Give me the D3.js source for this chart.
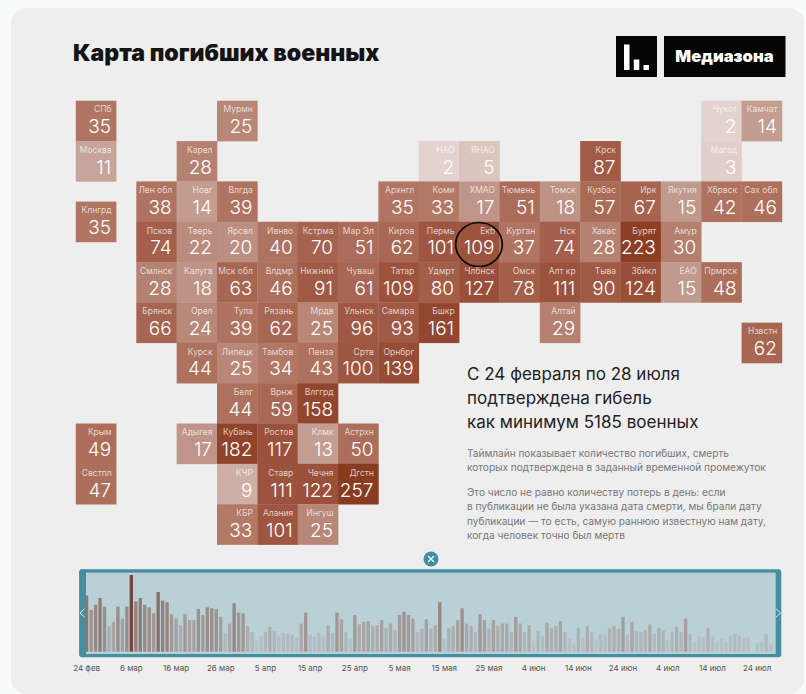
<!DOCTYPE html>
<html lang="ru">
<head>
<meta charset="utf-8">
<title>Карта погибших военных</title>
<script src="https://cdn.jsdelivr.net/npm/d3@7"></script>
<style>
  html, body { margin: 0; padding: 0; background: #f9fbfb; }
  svg { display: block; }
  text { font-family: "Inter", "Roboto", sans-serif; }
</style>
</head>
<body>
<svg id="chart"></svg>
<script>
// DATA

// regions of the tile map, the four arrays go together
const regionNames = [
  "СПб", "Мурмн", "Чукот", "Камчат",
  "Москва", "Карел", "НАО", "ЯНАО", "Крск", "Магад",
  "Лен обл", "Новг", "Влгда", "Архнгл", "Коми", "ХМАО", "Тюмень", "Томск", "Кузбас", "Ирк", "Якутия", "Хбрвск", "Сах обл",
  "Клнгрд",
  "Псков", "Тверь", "Ярсвл", "Ивнво", "Кстрма", "Мар Эл", "Киров", "Пермь", "Екб", "Курган", "Нск", "Хакас", "Бурят", "Амур",
  "Смлнск", "Калуга", "Мск обл", "Влдмр", "Нижний", "Чуваш", "Татар", "Удмрт", "Члбнск", "Омск", "Алт кр", "Тыва", "Збйкл", "ЕАО", "Прмрск",
  "Брянск", "Орел", "Тула", "Рязань", "Мрдв", "Ульнск", "Самара", "Бшкр", "Алтай",
  "Нзвстн",
  "Курск", "Липецк", "Тамбов", "Пенза", "Сртв", "Орнбрг",
  "Белг", "Врнж", "Влггрд",
  "Крым", "Адыгея", "Кубань", "Ростов", "Клмк", "Астрхн",
  "Свстпл", "КЧР", "Ставр", "Чечня", "Дгстн",
  "КБР", "Алания", "Ингуш"
];
const regionValues = [
  35, 25, 2, 14,
  11, 28, 2, 5, 87, 3,
  38, 14, 39, 35, 33, 17, 51, 18, 57, 67, 15, 42, 46,
  35,
  74, 22, 20, 40, 70, 51, 62, 101, 109, 37, 74, 28, 223, 30,
  28, 18, 63, 46, 91, 61, 109, 80, 127, 78, 111, 90, 124, 15, 48,
  66, 24, 39, 62, 25, 96, 93, 161, 29,
  62,
  44, 25, 34, 43, 100, 139,
  44, 59, 158,
  49, 17, 182, 117, 13, 50,
  47, 9, 111, 122, 257,
  33, 101, 25
];
// grid place of every region (column, row)
const regionCols = [
  -1.5, 2, 14, 15,
  -1.5, 1, 7, 8, 11, 14,
  0, 1, 2, 6, 7, 8, 9, 10, 11, 12, 13, 14, 15,
  -1.5,
  0, 1, 2, 3, 4, 5, 6, 7, 8, 9, 10, 11, 12, 13,
  0, 1, 2, 3, 4, 5, 6, 7, 8, 9, 10, 11, 12, 13, 14,
  0, 1, 2, 3, 4, 5, 6, 7, 10,
  15,
  1, 2, 3, 4, 5, 6,
  2, 3, 4,
  -1.5, 1, 2, 3, 4, 5,
  -1.5, 2, 3, 4, 5,
  2, 3, 4
];
const regionRows = [
  0, 0, 0, 0,
  1, 1, 1, 1, 1, 1,
  2, 2, 2, 2, 2, 2, 2, 2, 2, 2, 2, 2, 2,
  2.5,
  3, 3, 3, 3, 3, 3, 3, 3, 3, 3, 3, 3, 3, 3,
  4, 4, 4, 4, 4, 4, 4, 4, 4, 4, 4, 4, 4, 4, 4,
  5, 5, 5, 5, 5, 5, 5, 5, 5,
  5.5,
  6, 6, 6, 6, 6, 6,
  7, 7, 7,
  8, 8, 8, 8, 8, 8,
  9, 9, 9, 9, 9,
  10, 10, 10
];

// confirmed deaths per day, from 24 feb
const dailyDeaths = [
  66, 49, 55, 63, 53, 30, 35, 53, 39, 53,
  90, 59, 63, 55, 52, 45, 70, 60, 58, 44,
  39, 31, 44, 37, 37, 50, 43, 52, 51, 50,
  41, 22, 33, 57, 46, 45, 30, 23, 13, 18,
  23, 29, 24, 18, 22, 21, 20, 17, 33, 46,
  20, 18, 22, 18, 31, 22, 46, 38, 23, 15,
  43, 32, 35, 36, 30, 31, 37, 28, 33, 25,
  43, 47, 43, 39, 23, 27, 38, 27, 31, 58,
  15, 28, 30, 37, 51, 33, 30, 23, 44, 37,
  27, 37, 30, 33, 33, 23, 41, 33, 23, 31,
  13, 24, 19, 34, 28, 30, 36, 23, 15, 10,
  28, 16, 30, 23, 14, 21, 20, 27, 30, 27,
  41, 20, 35, 24, 23, 25, 32, 21, 28, 25,
  14, 23, 29, 23, 39, 21, 12, 18, 17, 28,
  18, 12, 15, 12, 19, 21, 19, 16, 17, 0,
  10, 12, 21, 10, 0
];
const dayTicks = ["24 фев", "6 мар", "16 мар", "26 мар", "5 апр", "15 апр", "25 апр", "5 мая",
  "15 мая", "25 мая", "4 июн", "14 июн", "24 июн", "4 июл", "14 июл", "24 июл"];

const headlineLines = ["С 24 февраля по 28 июля", "подтверждена гибель", "как минимум 5185 военных"];
const noteLines = ["Таймлайн показывает количество погибших, смерть",
  "которых подтверждена в заданный временной промежуток"];
const explainLines = ["Это число не равно количеству потерь в день: если",
  "в публикации не была указана дата смерти, мы брали дату",
  "публикации — то есть, самую раннюю известную нам дату,",
  "когда человек точно был мертв"];

// SETUP

const width = 806, height = 694;
const svg = d3.select("#chart").attr("width", width).attr("height", height);

// grey card behind everything
svg.append("rect")
  .attr("x", 11).attr("y", 8)
  .attr("width", 793).attr("height", 686)
  .attr("rx", 15)
  .attr("fill", "#eeeeee");

svg.append("text")
  .attr("x", 73).attr("y", 60.5)
  .attr("font-size", 23.1).attr("font-weight", 900)
  .attr("fill", "#141414")
  .text("Карта погибших военных");

// LOGO

const logo = svg.append("g");
logo.append("rect").attr("x", 616).attr("y", 36).attr("width", 41).attr("height", 41).attr("fill", "#050505");
[[624, 44.5], [633.8, 59.5], [643.5, 65]].forEach(function (b) {
  logo.append("rect").attr("x", b[0]).attr("y", b[1]).attr("width", 5.5).attr("height", 70 - b[1]).attr("fill", "#fff");
});
logo.append("rect").attr("x", 664).attr("y", 36).attr("width", 121.5).attr("height", 41).attr("fill", "#050505");
logo.append("text")
  .attr("x", 724.5).attr("y", 61.8)
  .attr("text-anchor", "middle")
  .attr("font-size", 16.6).attr("font-weight", 900)
  .attr("fill", "#fff")
  .text("Медиазона");

// TILE MAP

const tileSize = 40.35;
const xGrid = d3.scaleLinear().domain([0, 15]).range([136.3, 136.3 + 15 * tileSize]);
const yGrid = d3.scaleLinear().domain([0, 10]).range([100.7, 100.7 + 10 * tileSize]);

// color goes from pale pink to dark brown, most of the change is in small numbers
const tileColor = d3.scaleLinear()
  .domain([2, 5, 11, 18, 35, 74, 110, 160, 257])
  .range(["#e3d3ce", "#dbc5be", "#c6a499", "#bd9385", "#b07663", "#a4604c", "#9c533e", "#934730", "#893b20"]);

const tiles = svg.append("g")
  .selectAll("g")
  .data(regionNames.map(function (name, i) {
    return { name: name, value: regionValues[i], col: regionCols[i], row: regionRows[i] };
  }))
  .join("g")
    .attr("transform", function (d) { return "translate(" + xGrid(d.col) + "," + yGrid(d.row) + ")"; });

tiles.append("rect")
  .attr("width", tileSize + 0.3)
  .attr("height", tileSize + 0.3)
  .attr("fill", function (d) { return tileColor(d.value); });

tiles.append("text")
  .attr("x", tileSize - 4.5).attr("y", 11.8)
  .attr("text-anchor", "end")
  .attr("font-size", 8.5)
  .attr("fill", "#fff").attr("fill-opacity", 0.72)
  .text(function (d) { return d.name; });

tiles.append("text")
  .attr("x", tileSize - 5).attr("y", 32.7)
  .attr("text-anchor", "end")
  .attr("font-size", 19).attr("font-weight", 300)
  .attr("fill", "#fff")
  .text(function (d) { return d.value; });

// black circle around Екб (the one that was hand marked on the screenshot)
svg.append("ellipse")
  .attr("cx", 479).attr("cy", 244.5)
  .attr("rx", 23.3).attr("ry", 22)
  .attr("fill", "none")
  .attr("stroke", "#0a0a0a").attr("stroke-width", 1.7);

// TEXT BLOCK

function addLines(lines, firstY, step, size, color) {
  svg.append("g").selectAll("text")
    .data(lines)
    .join("text")
      .attr("x", 467)
      .attr("y", function (d, i) { return firstY + i * step; })
      .attr("font-size", size)
      .attr("fill", color)
      .text(function (d) { return d; });
}
addLines(headlineLines, 380, 24.2, 17.05, "#222222");
addLines(noteLines, 456.7, 14.2, 10.1, "#777777");
addLines(explainLines, 495.7, 14.4, 10.1, "#777777");

// TIMELINE

const barTop = 575, barBottom = 651.7;
const xDay = d3.scaleBand()
  .domain(d3.range(dailyDeaths.length))
  .range([84.4, 84.4 + dailyDeaths.length * 4.47]);
const yDeaths = d3.scaleLinear().domain([0, 90]).range([barBottom, barTop]);
const barColor = d3.scaleLinear()
  .domain([0, 18, 35, 58, 90])
  .range(["#b6c6ca", "#b3bfc2", "#a9a5a4", "#968580", "#74473d"]);

// brush window
svg.append("rect")
  .attr("x", 79.3).attr("y", 569.3)
  .attr("width", 702).attr("height", 88)
  .attr("rx", 3)
  .attr("fill", "#468e9f");
svg.append("rect")
  .attr("x", 86).attr("y", 572.6)
  .attr("width", 689.7).attr("height", 81.4)
  .attr("fill", "#b9d0d7");

svg.append("g")
  .selectAll("rect")
  .data(dailyDeaths)
  .join("rect")
    .attr("x", function (d, i) { return xDay(i) + (xDay.bandwidth() - 3.3) / 2; })
    .attr("y", function (d) { return yDeaths(d); })
    .attr("width", 3.3)
    .attr("height", function (d) { return barBottom - yDeaths(d); })
    .attr("fill", function (d) { return barColor(d); });

// the left handle sits on top of first bar
svg.append("rect")
  .attr("x", 79.3).attr("y", 569.3)
  .attr("width", 6.7).attr("height", 88)
  .attr("rx", 3)
  .attr("fill", "#468e9f");

// handle arrows
[[84.5, -1, 613], [776, 1, 613]].forEach(function (h) {
  svg.append("path")
    .attr("d", d3.line()([[h[0], h[2] - 4.2], [h[0] + h[1] * 4.6, h[2]], [h[0], h[2] + 4.2]]))
    .attr("fill", "none")
    .attr("stroke", "#dfeaed").attr("stroke-width", 1);
});

// close button above the window
svg.append("circle").attr("cx", 431).attr("cy", 559).attr("r", 7.5).attr("fill", "#3e8ea5");
svg.append("path")
  .attr("d", "M428 556L434 562M434 556L428 562")
  .attr("stroke", "#fff").attr("stroke-width", 1.2);

// x Axis
const dayAxis = svg.append("g")
  .attr("transform", "translate(0,656)")
  .call(d3.axisBottom(xDay)
    .tickValues(d3.range(0, dailyDeaths.length, 10))
    .tickSize(0)
    .tickPadding(9)
    .tickFormat(function (d) { return dayTicks[d / 10]; }));
dayAxis.select(".domain").remove();
dayAxis.selectAll("text")
  .style("font-size", "8px")
  .attr("fill", "#555555");
</script>
</body>
</html>
